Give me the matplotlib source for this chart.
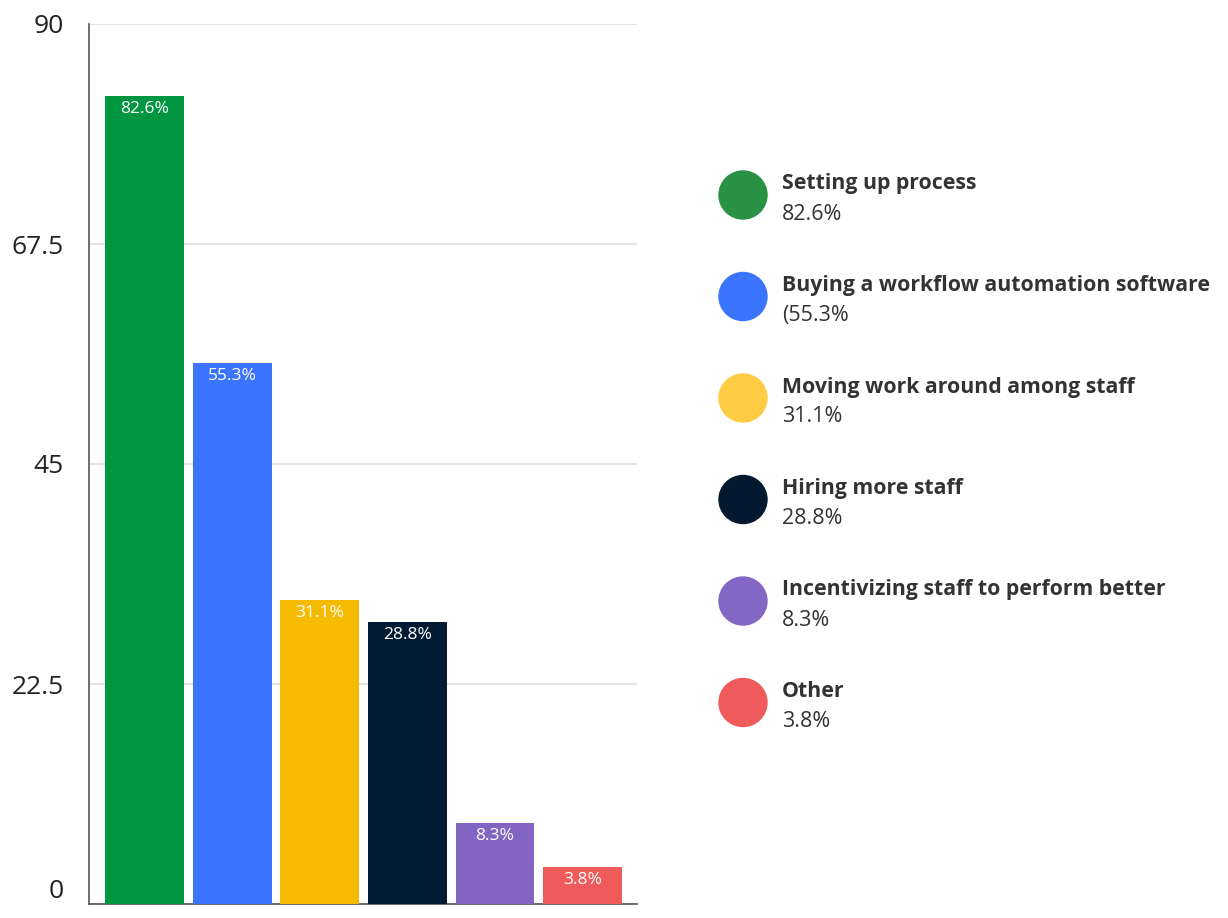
import matplotlib.pyplot as plt
from matplotlib.patches import Circle

plt.rcParams['font.family'] = ['Open Sans', 'DejaVu Sans']

categories = ["Setting up process", "Buying a workflow automation software",
              "Moving work around among staff", "Hiring more staff",
              "Incentivizing staff to perform better", "Other"]
values = [82.6, 55.3, 31.1, 28.8, 8.3, 3.8]
bar_labels = ["82.6%", "55.3%", "31.1%", "28.8%", "8.3%", "3.8%"]
legend_values = ["82.6%", "(55.3%", "31.1%", "28.8%", "8.3%", "3.8%"]
bar_colors = ["#009640", "#3a74ff", "#f6ba00", "#001b33", "#8464c2", "#ef5b5b"]
dot_colors = ["#2a9244", "#3a74ff", "#ffcc44", "#02192f", "#8466c4", "#ef5b5b"]
yticks = [0, 22.5, 45, 67.5, 90]

fig = plt.figure(figsize=(12.28, 9.18), dpi=100)
ax = fig.add_axes([89/1228, 14/918, 548/1228, 880/918])

x = range(len(values))
ax.bar(x, values, width=0.9, color=bar_colors, zorder=3)
for i, v in enumerate(values):
    ax.annotate(bar_labels[i], (i, v), xytext=(0, -13), textcoords='offset pixels',
                ha='center', va='center', color='white', fontsize=12.5, zorder=4)

ax.set_xlim(-0.634, 5.62)
ax.set_ylim(0, 90)
ax.set_yticks(yticks)
ax.set_yticklabels(["0", "22.5", "45", "67.5", "90"], fontsize=19, color='#222222')
ax.tick_params(axis='y', length=0, pad=18)
ax.set_xticks([])
ax.grid(axis='y', color='#dddddd', lw=1.2, zorder=0)
for s in ['top', 'right']:
    ax.spines[s].set_visible(False)
ax.spines['left'].set_color('#555555')
ax.spines['bottom'].set_color('#555555')
ax.spines['left'].set_linewidth(1.2)
ax.spines['bottom'].set_linewidth(1.2)
# keep the bottom "0" label inside the picture
ax.get_yticklabels()[0].set_va('bottom')
ax.get_yticklabels()[0].set_y(0)

# legend drawn in pixel coordinates
lg = fig.add_axes([0, 0, 1, 1], zorder=5)
lg.set_xlim(0, 1228)
lg.set_ylim(918, 0)
lg.axis('off')
for i, name in enumerate(categories):
    cy = 195 + i * 101.5
    lg.add_patch(Circle((743, cy), 24, color=dot_colors[i]))
    lg.text(782, cy - 11, name, fontsize=15.3, fontweight='bold', color='#333333',
            va='center', ha='left')
    lg.text(782, cy + 19, legend_values[i], fontsize=15.5, color='#333333',
            va='center', ha='left')

fig.savefig("out.png", dpi=100)
